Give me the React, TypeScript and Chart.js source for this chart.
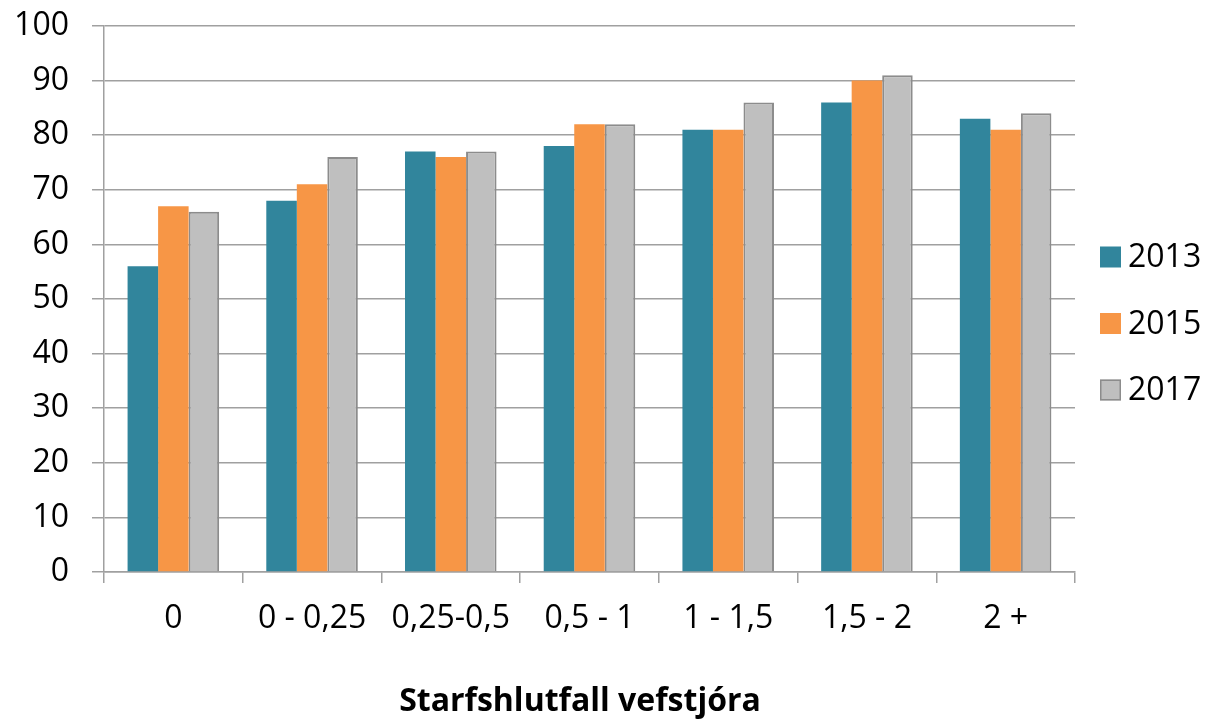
import React, { useEffect, useRef } from "react";
import { Chart, registerables } from "chart.js";

Chart.register(...registerables);

const categories = ["0", "0 - 0,25", "0,25-0,5", "0,5 - 1", "1 - 1,5", "1,5 - 2", "2 +"];
const series2013 = [56, 68, 77, 78, 81, 86, 83];
const series2015 = [67, 71, 76, 82, 81, 90, 81];
const series2017 = [66, 76, 77, 82, 86, 91, 84];
const seriesNames = ["2013", "2015", "2017"];
const xTitle = "Starfshlutfall vefstjóra";

const FONT = "'Open Sans', 'DejaVu Sans', sans-serif";
const GRID = "#a0a0a0";

const legendPlugin = {
  id: "customLegend",
  afterDraw(chart: any) {
    const ctx = chart.ctx;
    const ds = chart.data.datasets;
    const startY = 257;
    const gap = 66.5;
    ctx.save();
    ds.forEach((d: any, i: number) => {
      const cy = startY + i * gap;
      ctx.fillStyle = d.backgroundColor;
      ctx.fillRect(1100, cy - 10.5, 21, 21);
      if (d.borderWidth > 0) {
        ctx.strokeStyle = d.borderColor;
        ctx.lineWidth = 1.5;
        ctx.strokeRect(1100.75, cy - 9.75, 19.5, 19.5);
      }
      ctx.fillStyle = "#000";
      ctx.font = `32px ${FONT}`;
      ctx.textBaseline = "middle";
      ctx.textAlign = "left";
      ctx.fillText(d.label, 1128, cy + 1);
    });
    // axis title
    ctx.font = `bold 32px ${FONT}`;
    ctx.textAlign = "center";
    ctx.textBaseline = "middle";
    ctx.fillStyle = "#000";
    ctx.fillText(xTitle, 580, 702);
    ctx.restore();
  },
};

export default function App() {
  const ref = useRef<HTMLCanvasElement>(null);
  useEffect(() => {
    if (!ref.current) return;
    const chart = new Chart(ref.current, {
      type: "bar",
      data: {
        labels: categories,
        datasets: [
          { label: seriesNames[0], data: series2013, backgroundColor: "#31859c", borderWidth: 0 },
          { label: seriesNames[1], data: series2015, backgroundColor: "#f79646", borderWidth: 0 },
          { label: seriesNames[2], data: series2017, backgroundColor: "#bfbfbf", borderColor: "#8c8c8c", borderWidth: 2 },
        ],
      },
      options: {
        responsive: false,
        animation: false,
        layout: { padding: { top: 26, right: 134, bottom: 0, left: 0 } },
        datasets: { bar: { categoryPercentage: 0.66, barPercentage: 1.0 } },
        plugins: { legend: { display: false }, tooltip: { enabled: false } },
        scales: {
          x: {
            offset: true,
            grid: { offset: true, drawOnChartArea: false, drawTicks: true, tickLength: 11, color: GRID, lineWidth: 1.5 },
            border: { display: true, color: GRID, width: 1.5 },
            ticks: { font: { family: FONT, size: 32 }, color: "#000", padding: 17, maxRotation: 0, autoSkip: false },
            title: { display: false },
            afterFit: (s: any) => { s.height = 151; s.paddingLeft = 0; s.paddingRight = 0; },
          },
          y: {
            min: 0,
            max: 100,
            ticks: { stepSize: 10, font: { family: FONT, size: 32 }, color: "#000", padding: 23 },
            grid: { color: GRID, lineWidth: 1.5, tickLength: 12, drawTicks: true },
            border: { display: true, color: GRID, width: 1.5 },
            afterFit: (s: any) => { s.width = 104; s.paddingTop = 0; s.paddingBottom = 0; },
          },
        },
      },
      plugins: [legendPlugin],
    });
    return () => chart.destroy();
  }, []);
  return (
    <div style={{ position: "fixed", left: 0, top: 0, width: 1209, height: 723, background: "#fff" }}>
      <canvas ref={ref} width={1209} height={723} style={{ display: "block" }} />
    </div>
  );
}
